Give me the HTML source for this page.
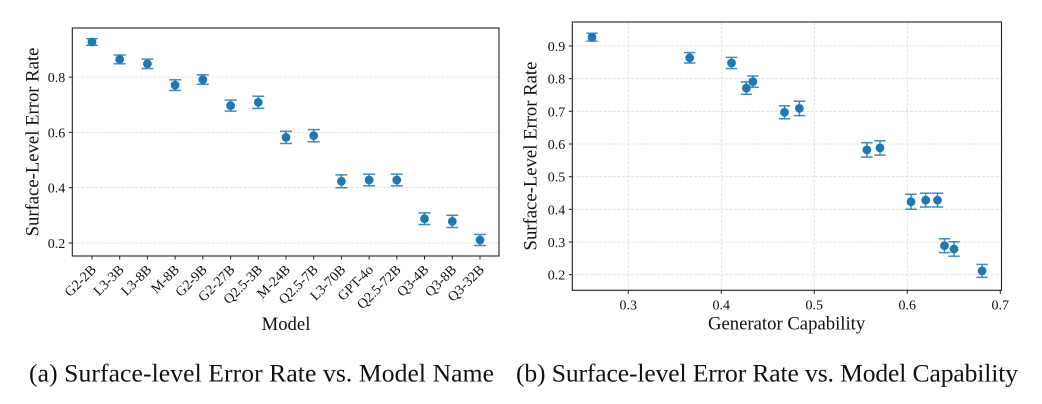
<!DOCTYPE html>
<html>
<head>
<meta charset="utf-8">
<style>
html,body{margin:0;padding:0;background:#fff;}
svg{display:block;}
text{font-family:"Liberation Serif","DejaVu Serif",serif;fill:#111;}
.tk{font-size:14px;}
.lab{font-size:18.7px;}
.cap{font-size:25.6px;}
.grid{stroke:#dcdcdc;stroke-width:0.8;stroke-dasharray:3,1.5;}
.spine{fill:none;stroke:#222;stroke-width:1.1;}
.tick{stroke:#222;stroke-width:1;}
.eb{stroke:#1f77b4;stroke-width:1.5;opacity:0.85;}
.pt{fill:#1f77b4;}
</style>
</head>
<body>
<svg width="1042" height="404" viewBox="0 0 1042 404" xmlns="http://www.w3.org/2000/svg">
<rect width="1042" height="404" fill="#fff"/>

<!-- LEFT PLOT -->
<g>
  <line class="grid" x1="72.3" x2="499" y1="243" y2="243"/>
  <line class="grid" x1="72.3" x2="499" y1="187.7" y2="187.7"/>
  <line class="grid" x1="72.3" x2="499" y1="132.4" y2="132.4"/>
  <line class="grid" x1="72.3" x2="499" y1="77.1" y2="77.1"/>

  <line class="tick" x1="68.8" x2="72.3" y1="243" y2="243"/>
  <line class="tick" x1="68.8" x2="72.3" y1="187.7" y2="187.7"/>
  <line class="tick" x1="68.8" x2="72.3" y1="132.4" y2="132.4"/>
  <line class="tick" x1="68.8" x2="72.3" y1="77.1" y2="77.1"/>
  <text class="tk" x="65.3" y="248" text-anchor="end">0.2</text>
  <text class="tk" x="65.3" y="192.7" text-anchor="end">0.4</text>
  <text class="tk" x="65.3" y="137.4" text-anchor="end">0.6</text>
  <text class="tk" x="65.3" y="82.1" text-anchor="end">0.8</text>

  <g>
    <line class="eb" x1="92" x2="92" y1="38.7" y2="45.3"/><line class="eb" x1="86" x2="98" y1="38.7" y2="38.7"/><line class="eb" x1="86" x2="98" y1="45.3" y2="45.3"/><circle class="pt" cx="92" cy="42" r="4.4"/>
    <line class="eb" x1="119.7" x2="119.7" y1="55" y2="63.8"/><line class="eb" x1="113.7" x2="125.7" y1="55" y2="55"/><line class="eb" x1="113.7" x2="125.7" y1="63.8" y2="63.8"/><circle class="pt" cx="119.7" cy="59.4" r="4.4"/>
    <line class="eb" x1="147.4" x2="147.4" y1="59.1" y2="68.5"/><line class="eb" x1="141.4" x2="153.4" y1="59.1" y2="59.1"/><line class="eb" x1="141.4" x2="153.4" y1="68.5" y2="68.5"/><circle class="pt" cx="147.4" cy="63.8" r="4.4"/>
    <line class="eb" x1="175.1" x2="175.1" y1="79.8" y2="90.4"/><line class="eb" x1="169.1" x2="181.1" y1="79.8" y2="79.8"/><line class="eb" x1="169.1" x2="181.1" y1="90.4" y2="90.4"/><circle class="pt" cx="175.1" cy="85.1" r="4.4"/>
    <line class="eb" x1="202.8" x2="202.8" y1="74.9" y2="84.3"/><line class="eb" x1="196.8" x2="208.8" y1="74.9" y2="74.9"/><line class="eb" x1="196.8" x2="208.8" y1="84.3" y2="84.3"/><circle class="pt" cx="202.8" cy="79.6" r="4.4"/>
    <line class="eb" x1="230.6" x2="230.6" y1="100.1" y2="111.1"/><line class="eb" x1="224.6" x2="236.6" y1="100.1" y2="100.1"/><line class="eb" x1="224.6" x2="236.6" y1="111.1" y2="111.1"/><circle class="pt" cx="230.6" cy="105.6" r="4.4"/>
    <line class="eb" x1="258.3" x2="258.3" y1="96.2" y2="108.4"/><line class="eb" x1="252.3" x2="264.3" y1="96.2" y2="96.2"/><line class="eb" x1="252.3" x2="264.3" y1="108.4" y2="108.4"/><circle class="pt" cx="258.3" cy="102.3" r="4.4"/>
    <line class="eb" x1="286" x2="286" y1="131.3" y2="143.5"/><line class="eb" x1="280" x2="292" y1="131.3" y2="131.3"/><line class="eb" x1="280" x2="292" y1="143.5" y2="143.5"/><circle class="pt" cx="286" cy="137.4" r="4.4"/>
    <line class="eb" x1="313.7" x2="313.7" y1="129.6" y2="141.8"/><line class="eb" x1="307.7" x2="319.7" y1="129.6" y2="129.6"/><line class="eb" x1="307.7" x2="319.7" y1="141.8" y2="141.8"/><circle class="pt" cx="313.7" cy="135.7" r="4.4"/>
    <line class="eb" x1="341.4" x2="341.4" y1="174.9" y2="187.7"/><line class="eb" x1="335.4" x2="347.4" y1="174.9" y2="174.9"/><line class="eb" x1="335.4" x2="347.4" y1="187.7" y2="187.7"/><circle class="pt" cx="341.4" cy="181.3" r="4.4"/>
    <line class="eb" x1="369.1" x2="369.1" y1="174.2" y2="185.8"/><line class="eb" x1="363.1" x2="375.1" y1="174.2" y2="174.2"/><line class="eb" x1="363.1" x2="375.1" y1="185.8" y2="185.8"/><circle class="pt" cx="369.1" cy="180" r="4.4"/>
    <line class="eb" x1="396.8" x2="396.8" y1="174.2" y2="185.8"/><line class="eb" x1="390.8" x2="402.8" y1="174.2" y2="174.2"/><line class="eb" x1="390.8" x2="402.8" y1="185.8" y2="185.8"/><circle class="pt" cx="396.8" cy="180" r="4.4"/>
    <line class="eb" x1="424.5" x2="424.5" y1="212.9" y2="224.5"/><line class="eb" x1="418.5" x2="430.5" y1="212.9" y2="212.9"/><line class="eb" x1="418.5" x2="430.5" y1="224.5" y2="224.5"/><circle class="pt" cx="424.5" cy="218.7" r="4.4"/>
    <line class="eb" x1="452.3" x2="452.3" y1="215.3" y2="227.5"/><line class="eb" x1="446.3" x2="458.3" y1="215.3" y2="215.3"/><line class="eb" x1="446.3" x2="458.3" y1="227.5" y2="227.5"/><circle class="pt" cx="452.3" cy="221.4" r="4.4"/>
    <line class="eb" x1="480" x2="480" y1="234.5" y2="245.5"/><line class="eb" x1="474" x2="486" y1="234.5" y2="234.5"/><line class="eb" x1="474" x2="486" y1="245.5" y2="245.5"/><circle class="pt" cx="480" cy="240" r="4.4"/>
  </g>

  <rect class="spine" x="72.3" y="28" width="426.7" height="228"/>

  <g class="tick">
    <line x1="92" x2="92" y1="256" y2="259.5"/>
    <line x1="119.7" x2="119.7" y1="256" y2="259.5"/>
    <line x1="147.4" x2="147.4" y1="256" y2="259.5"/>
    <line x1="175.1" x2="175.1" y1="256" y2="259.5"/>
    <line x1="202.8" x2="202.8" y1="256" y2="259.5"/>
    <line x1="230.6" x2="230.6" y1="256" y2="259.5"/>
    <line x1="258.3" x2="258.3" y1="256" y2="259.5"/>
    <line x1="286" x2="286" y1="256" y2="259.5"/>
    <line x1="313.7" x2="313.7" y1="256" y2="259.5"/>
    <line x1="341.4" x2="341.4" y1="256" y2="259.5"/>
    <line x1="369.1" x2="369.1" y1="256" y2="259.5"/>
    <line x1="396.8" x2="396.8" y1="256" y2="259.5"/>
    <line x1="424.5" x2="424.5" y1="256" y2="259.5"/>
    <line x1="452.3" x2="452.3" y1="256" y2="259.5"/>
    <line x1="480" x2="480" y1="256" y2="259.5"/>
  </g>
  <g class="tk" text-anchor="end">
    <text x="97" y="270.5" transform="rotate(-45 97 270.5)">G2-2B</text>
    <text x="124.7" y="270.5" transform="rotate(-45 124.7 270.5)">L3-3B</text>
    <text x="152.4" y="270.5" transform="rotate(-45 152.4 270.5)">L3-8B</text>
    <text x="180.1" y="270.5" transform="rotate(-45 180.1 270.5)">M-8B</text>
    <text x="207.8" y="270.5" transform="rotate(-45 207.8 270.5)">G2-9B</text>
    <text x="235.6" y="270.5" transform="rotate(-45 235.6 270.5)">G2-27B</text>
    <text x="263.3" y="270.5" transform="rotate(-45 263.3 270.5)">Q2.5-3B</text>
    <text x="291" y="270.5" transform="rotate(-45 291 270.5)">M-24B</text>
    <text x="318.7" y="270.5" transform="rotate(-45 318.7 270.5)">Q2.5-7B</text>
    <text x="346.4" y="270.5" transform="rotate(-45 346.4 270.5)">L3-70B</text>
    <text x="374.1" y="270.5" transform="rotate(-45 374.1 270.5)">GPT-4o</text>
    <text x="401.8" y="270.5" transform="rotate(-45 401.8 270.5)">Q2.5-72B</text>
    <text x="429.5" y="270.5" transform="rotate(-45 429.5 270.5)">Q3-4B</text>
    <text x="457.3" y="270.5" transform="rotate(-45 457.3 270.5)">Q3-8B</text>
    <text x="485" y="270.5" transform="rotate(-45 485 270.5)">Q3-32B</text>
  </g>

  <text class="lab" x="286" y="330" text-anchor="middle">Model</text>
  <text class="lab" x="38.5" y="142" text-anchor="middle" transform="rotate(-90 38.5 142)">Surface-Level Error Rate</text>
</g>

<!-- RIGHT PLOT -->
<g>
  <line class="grid" x1="572.3" x2="1001.5" y1="274.7" y2="274.7"/>
  <line class="grid" x1="572.3" x2="1001.5" y1="242.0" y2="242.0"/>
  <line class="grid" x1="572.3" x2="1001.5" y1="209.3" y2="209.3"/>
  <line class="grid" x1="572.3" x2="1001.5" y1="176.7" y2="176.7"/>
  <line class="grid" x1="572.3" x2="1001.5" y1="144.0" y2="144.0"/>
  <line class="grid" x1="572.3" x2="1001.5" y1="111.3" y2="111.3"/>
  <line class="grid" x1="572.3" x2="1001.5" y1="78.7" y2="78.7"/>
  <line class="grid" x1="572.3" x2="1001.5" y1="46.0" y2="46.0"/>
  <line class="grid" x1="628.3" x2="628.3" y1="22" y2="290.3"/>
  <line class="grid" x1="721.3" x2="721.3" y1="22" y2="290.3"/>
  <line class="grid" x1="814.3" x2="814.3" y1="22" y2="290.3"/>
  <line class="grid" x1="907.3" x2="907.3" y1="22" y2="290.3"/>

  <g class="tick">
    <line x1="568.8" x2="572.3" y1="274.7" y2="274.7"/>
    <line x1="568.8" x2="572.3" y1="242.0" y2="242.0"/>
    <line x1="568.8" x2="572.3" y1="209.3" y2="209.3"/>
    <line x1="568.8" x2="572.3" y1="176.7" y2="176.7"/>
    <line x1="568.8" x2="572.3" y1="144.0" y2="144.0"/>
    <line x1="568.8" x2="572.3" y1="111.3" y2="111.3"/>
    <line x1="568.8" x2="572.3" y1="78.7" y2="78.7"/>
    <line x1="568.8" x2="572.3" y1="46.0" y2="46.0"/>
  </g>
  <g class="tk" text-anchor="end">
    <text x="565.3" y="279.7">0.2</text>
    <text x="565.3" y="247.0">0.3</text>
    <text x="565.3" y="214.3">0.4</text>
    <text x="565.3" y="181.7">0.5</text>
    <text x="565.3" y="149.0">0.6</text>
    <text x="565.3" y="116.3">0.7</text>
    <text x="565.3" y="83.7">0.8</text>
    <text x="565.3" y="51.0">0.9</text>
  </g>

  <g>
    <line class="eb" x1="592" x2="592" y1="33.3" y2="41.1"/><line class="eb" x1="586.3" x2="597.7" y1="33.3" y2="33.3"/><line class="eb" x1="586.3" x2="597.7" y1="41.1" y2="41.1"/><circle class="pt" cx="592" cy="37.2" r="4.4"/>
    <line class="eb" x1="689.7" x2="689.7" y1="52.6" y2="63"/><line class="eb" x1="684" x2="695.4" y1="52.6" y2="52.6"/><line class="eb" x1="684" x2="695.4" y1="63" y2="63"/><circle class="pt" cx="689.7" cy="57.8" r="4.4"/>
    <line class="eb" x1="731.5" x2="731.5" y1="57.4" y2="68.6"/><line class="eb" x1="725.8" x2="737.2" y1="57.4" y2="57.4"/><line class="eb" x1="725.8" x2="737.2" y1="68.6" y2="68.6"/><circle class="pt" cx="731.5" cy="63" r="4.4"/>
    <line class="eb" x1="746.4" x2="746.4" y1="81.9" y2="94.3"/><line class="eb" x1="740.7" x2="752.1" y1="81.9" y2="81.9"/><line class="eb" x1="740.7" x2="752.1" y1="94.3" y2="94.3"/><circle class="pt" cx="746.4" cy="88.1" r="4.4"/>
    <line class="eb" x1="752.9" x2="752.9" y1="76" y2="87.2"/><line class="eb" x1="747.2" x2="758.6" y1="76" y2="76"/><line class="eb" x1="747.2" x2="758.6" y1="87.2" y2="87.2"/><circle class="pt" cx="752.9" cy="81.6" r="4.4"/>
    <line class="eb" x1="784.5" x2="784.5" y1="105.8" y2="118.8"/><line class="eb" x1="778.8" x2="790.2" y1="105.8" y2="105.8"/><line class="eb" x1="778.8" x2="790.2" y1="118.8" y2="118.8"/><circle class="pt" cx="784.5" cy="112.3" r="4.4"/>
    <line class="eb" x1="799.4" x2="799.4" y1="101.2" y2="115.6"/><line class="eb" x1="793.7" x2="805.1" y1="101.2" y2="101.2"/><line class="eb" x1="793.7" x2="805.1" y1="115.6" y2="115.6"/><circle class="pt" cx="799.4" cy="108.4" r="4.4"/>
    <line class="eb" x1="866.9" x2="866.9" y1="142.7" y2="157.1"/><line class="eb" x1="861.2" x2="872.6" y1="142.7" y2="142.7"/><line class="eb" x1="861.2" x2="872.6" y1="157.1" y2="157.1"/><circle class="pt" cx="866.9" cy="149.9" r="4.4"/>
    <line class="eb" x1="880" x2="880" y1="140.7" y2="155.1"/><line class="eb" x1="874.3" x2="885.7" y1="140.7" y2="140.7"/><line class="eb" x1="874.3" x2="885.7" y1="155.1" y2="155.1"/><circle class="pt" cx="880" cy="147.9" r="4.4"/>
    <line class="eb" x1="911" x2="911" y1="194.3" y2="209.3"/><line class="eb" x1="905.3" x2="916.7" y1="194.3" y2="194.3"/><line class="eb" x1="905.3" x2="916.7" y1="209.3" y2="209.3"/><circle class="pt" cx="911" cy="201.8" r="4.4"/>
    <line class="eb" x1="925.7" x2="925.7" y1="193.2" y2="207"/><line class="eb" x1="920" x2="931.4" y1="193.2" y2="193.2"/><line class="eb" x1="920" x2="931.4" y1="207" y2="207"/><circle class="pt" cx="925.7" cy="200.1" r="4.4"/>
    <line class="eb" x1="937.5" x2="937.5" y1="193.2" y2="207"/><line class="eb" x1="931.8" x2="943.2" y1="193.2" y2="193.2"/><line class="eb" x1="931.8" x2="943.2" y1="207" y2="207"/><circle class="pt" cx="937.5" cy="200.1" r="4.4"/>
    <line class="eb" x1="944.5" x2="944.5" y1="238.8" y2="252.6"/><line class="eb" x1="938.8" x2="950.2" y1="238.8" y2="238.8"/><line class="eb" x1="938.8" x2="950.2" y1="252.6" y2="252.6"/><circle class="pt" cx="944.5" cy="245.7" r="4.4"/>
    <line class="eb" x1="954" x2="954" y1="241.8" y2="256.2"/><line class="eb" x1="948.3" x2="959.7" y1="241.8" y2="241.8"/><line class="eb" x1="948.3" x2="959.7" y1="256.2" y2="256.2"/><circle class="pt" cx="954" cy="249" r="4.4"/>
    <line class="eb" x1="982.1" x2="982.1" y1="264.4" y2="277.4"/><line class="eb" x1="976.4" x2="987.8" y1="264.4" y2="264.4"/><line class="eb" x1="976.4" x2="987.8" y1="277.4" y2="277.4"/><circle class="pt" cx="982.1" cy="270.9" r="4.4"/>
  </g>

  <rect class="spine" x="572.3" y="22" width="429.2" height="268.3"/>

  <g class="tick">
    <line x1="628.3" x2="628.3" y1="290.3" y2="293.8"/>
    <line x1="721.3" x2="721.3" y1="290.3" y2="293.8"/>
    <line x1="814.3" x2="814.3" y1="290.3" y2="293.8"/>
    <line x1="907.3" x2="907.3" y1="290.3" y2="293.8"/>
    <line x1="1000.3" x2="1000.3" y1="290.3" y2="293.8"/>
  </g>
  <g class="tk" text-anchor="middle">
    <text x="628.3" y="309.3">0.3</text>
    <text x="721.3" y="309.3">0.4</text>
    <text x="814.3" y="309.3">0.5</text>
    <text x="907.3" y="309.3">0.6</text>
    <text x="1000.3" y="309.3">0.7</text>
  </g>

  <text class="lab" x="786.6" y="329.5" text-anchor="middle">Generator Capability</text>
  <text class="lab" x="536.5" y="156" text-anchor="middle" transform="rotate(-90 536.5 156)">Surface-Level Error Rate</text>
</g>

<text class="cap" x="29" y="381.7" textLength="465" lengthAdjust="spacing">(a) Surface-level Error Rate vs. Model Name</text>
<text class="cap" x="516" y="381.7" textLength="502" lengthAdjust="spacing">(b) Surface-level Error Rate vs. Model Capability</text>
</svg>
</body>
</html>
